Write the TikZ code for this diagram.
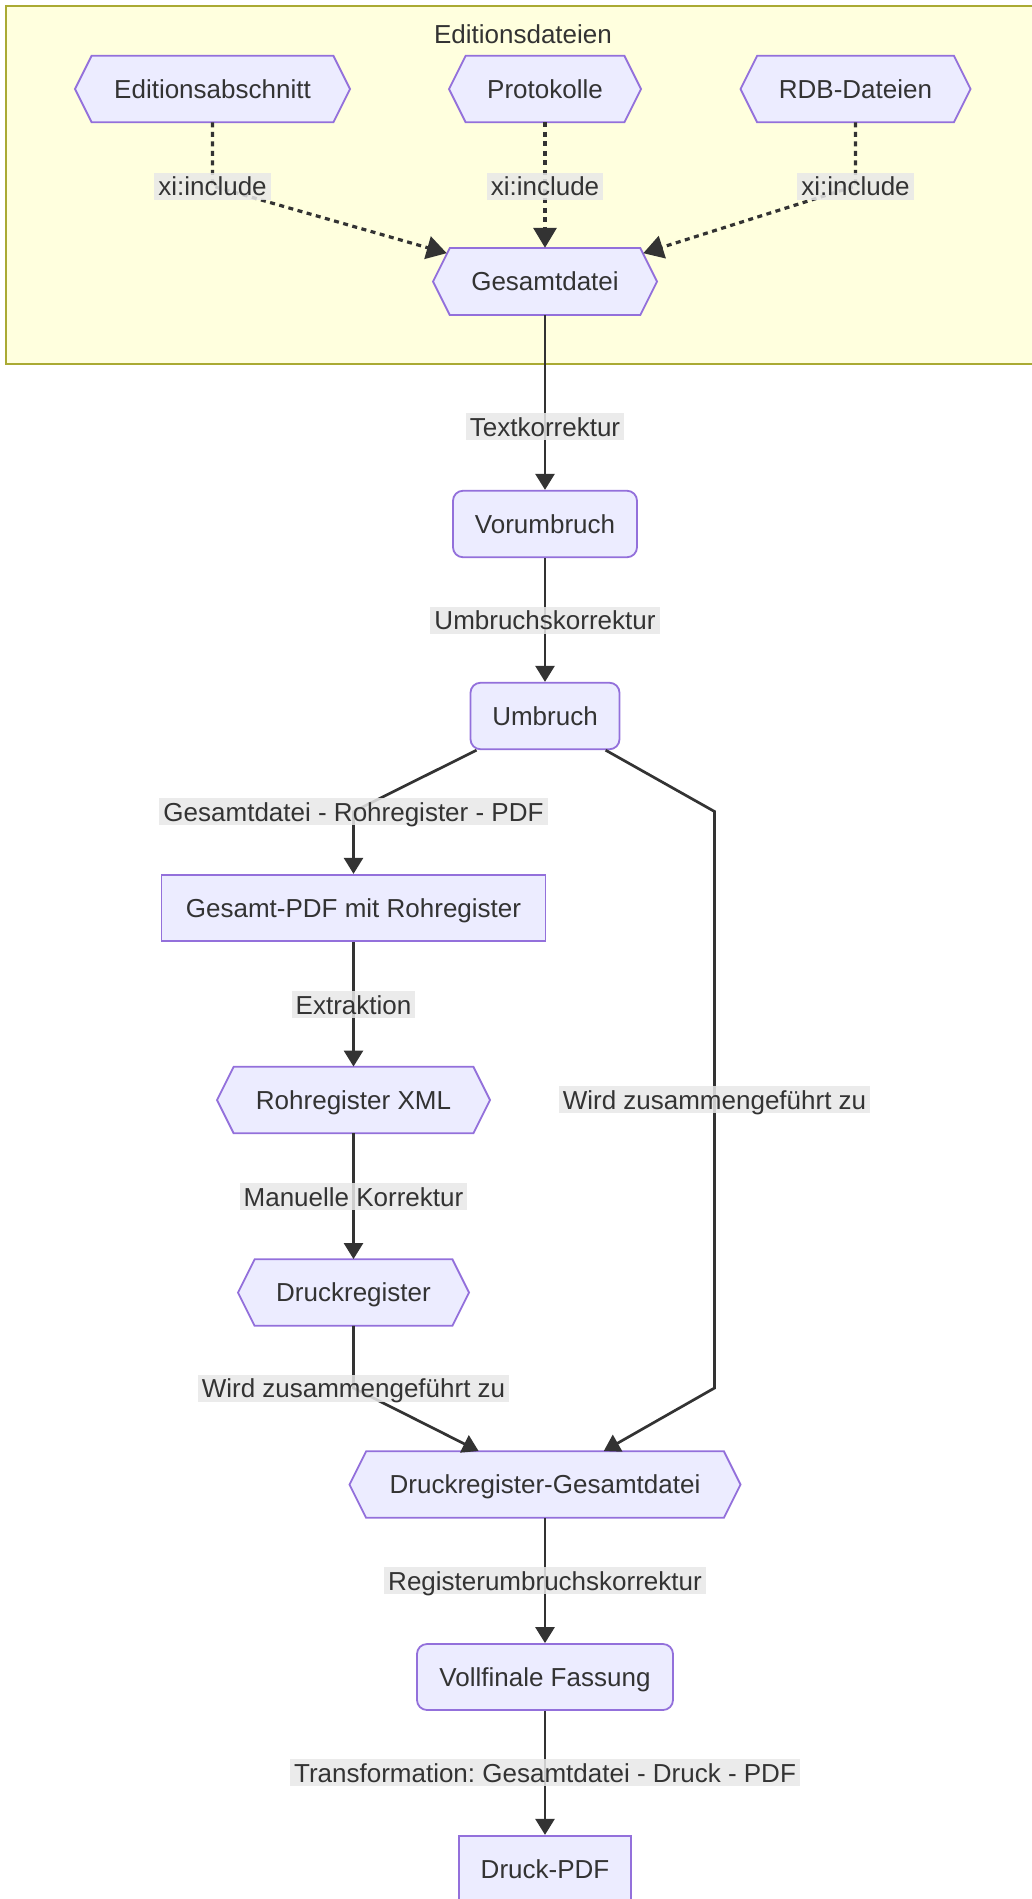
\documentclass[tikz,border=0pt]{standalone}
\usepackage{fontspec}
\setmainfont{Liberation Sans}
\usetikzlibrary{arrows.meta,calc}
\definecolor{nodefill}{HTML}{ECECFF}
\definecolor{nodestroke}{HTML}{9370DB}
\definecolor{clusterfill}{HTML}{FFFFDE}
\definecolor{clusterstroke}{HTML}{AAAA33}
\definecolor{lblgray}{HTML}{E8E8E8}
\definecolor{textc}{HTML}{333333}
\definecolor{edgec}{HTML}{333333}
\newcommand\dfont{\fontsize{26pt}{31pt}\selectfont\frenchspacing}
\tikzset{
  txtbase/.style={text=textc, font=\dfont, text height=21.8pt, text depth=3.2pt, inner sep=0pt},
  box/.style={txtbase, draw=nodestroke, fill=nodefill, line width=1.8pt},
  roundbox/.style={box, rounded corners=10pt},
  hexbox/.style={txtbase},
  hexshape/.style={draw=nodestroke, fill=nodefill, line width=1.8pt},
  lbl/.style={fill=lblgray, fill opacity=0.85, text opacity=1, text=textc, font=\dfont,
              inner xsep=4pt, inner ysep=1pt, text height=22.3pt, text depth=2.7pt},
  edge/.style={draw=edgec, line width=2.7pt, -{Triangle[length=16pt,width=19pt]}},
  dotedge/.style={draw=edgec, line width=3.2pt, dash pattern=on 5pt off 4.5pt,
                  -{Triangle[length=20pt,width=23pt]}},
}
% name, cx, cy, w, h, text
\newcommand\hexnode[6]{%
  \path[hexshape] ({#2-#4/2},#3) -- ({#2-#4/2+#5/4},{#3-#5/2}) -- ({#2+#4/2-#5/4},{#3-#5/2})
     -- ({#2+#4/2},#3) -- ({#2+#4/2-#5/4},{#3+#5/2}) -- ({#2-#4/2+#5/4},{#3+#5/2}) -- cycle;
  \node[hexbox, minimum width=#4, minimum height=#5] (#1) at (#2,#3) {#6};}
\begin{document}
\begin{tikzpicture}[x=1pt, y=-1pt]
\useasboundingbox (0,0) rectangle (1032,1899);
% cluster
\path[fill=clusterfill, draw=clusterstroke, line width=2pt] (5.5,6) rectangle (1040,364);
\node[txtbase] (ctitle) at (523,34) {Editionsdateien};

% nodes
\hexnode{edit}{212.5}{89}{275}{66.5}{Editionsabschnitt}
\hexnode{prot}{545}{89}{192}{66.5}{Protokolle}
\hexnode{rdb}{855.5}{89}{230}{66.5}{RDB-Dateien}
\hexnode{gesamt}{545}{281.5}{224}{67}{Gesamtdatei}
\node[roundbox, minimum width=184, minimum height=66.5] (vorum) at (545,524) {Vorumbruch};
\node[roundbox, minimum width=149, minimum height=66.5] (umbruch) at (545,716) {Umbruch};
\node[box, minimum width=384, minimum height=66.5] (gpdf) at (353.5,908) {Gesamt-PDF mit Rohregister};
\hexnode{rohxml}{353.5}{1100}{273}{66.5}{Rohregister XML}
\hexnode{druckreg}{353.5}{1292.5}{231}{66.5}{Druckregister}
\hexnode{drg}{545}{1484.5}{391}{66.5}{Druckregister-Gesamtdatei}
\node[roundbox, minimum width=256, minimum height=66] (vollfinal) at (545,1677) {Vollfinale Fassung};
\node[box, minimum width=172, minimum height=66.5] (dpdf) at (545,1869) {Druck-PDF};

% label anchor coordinates
\coordinate (xl) at (212.5,186);
\coordinate (xm) at (545,186);
\coordinate (xr) at (855.5,186);
\coordinate (b1) at (353.5,811.5);
\coordinate (r1) at (714.5,811.5);
\coordinate (r2) at (714.5,1388);
\coordinate (b2) at (353.5,1388);

% dotted edges
\draw[dotedge] (edit.south) -- (xl) node[lbl]{xi:include}
   -- ($([xshift=16.6pt]gesamt.north west)!0.16!(gesamt.west)$);
\draw[dotedge] (prot.south) -- (xm) node[lbl]{xi:include} -- (gesamt.north);
\draw[dotedge] (rdb.south) -- (xr) node[lbl]{xi:include}
   -- ($([xshift=-16.6pt]gesamt.north east)!0.16!(gesamt.east)$);

% solid edges
\draw[edge] (gesamt) -- node[lbl, pos=0.64]{Textkorrektur} (vorum);
\draw[edge] (vorum) -- node[lbl]{Umbruchskorrektur} (umbruch);
\draw[edge] (umbruch) -- (b1) node[lbl]{Gesamtdatei - Rohregister - PDF} -- (gpdf);
\draw[edge] (umbruch) -- (r1) -- node[lbl]{Wird zusammengeführt zu} (r2) -- (drg);
\draw[edge] (gpdf) -- node[lbl]{Extraktion} (rohxml);
\draw[edge] (rohxml) -- node[lbl]{Manuelle Korrektur} (druckreg);
\draw[edge] (druckreg) -- (b2) node[lbl]{Wird zusammengeführt zu} -- (drg);
\draw[edge] (drg) -- node[lbl]{Registerumbruchskorrektur} (vollfinal);
\draw[edge] (vollfinal) -- node[lbl]{Transformation: Gesamtdatei - Druck - PDF} (dpdf);
\end{tikzpicture}
\end{document}
